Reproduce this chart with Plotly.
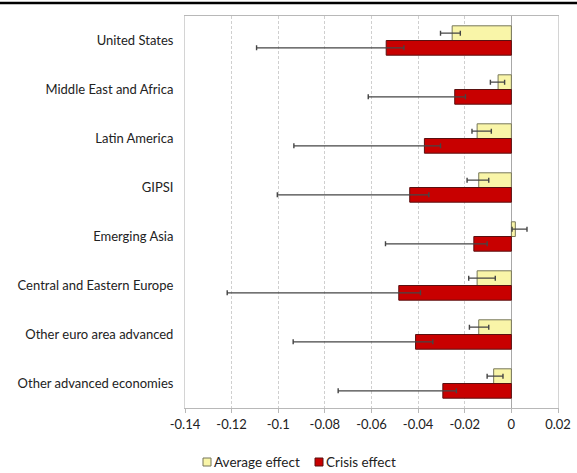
import plotly.graph_objects as go

# Regional groups, listed top to bottom
regions = [
    "United States",
    "Middle East and Africa",
    "Latin America",
    "GIPSI",
    "Emerging Asia",
    "Central and Eastern Europe",
    "Other euro area advanced",
    "Other advanced economies",
]

# Point estimates
average_effect = [-0.0254, -0.0057, -0.0147, -0.0140, 0.0017, -0.0147, -0.0140, -0.0076]
crisis_effect = [-0.0537, -0.0243, -0.0373, -0.0436, -0.0161, -0.0483, -0.0411, -0.0294]

# Interval bounds drawn as whiskers
average_low = [-0.0304, -0.0090, -0.0169, -0.0190, 0.0003, -0.0183, -0.0180, -0.0104]
average_high = [-0.0219, -0.0029, -0.0086, -0.0097, 0.0067, -0.0069, -0.0097, -0.0036]
crisis_low = [-0.1093, -0.0614, -0.0933, -0.1004, -0.0540, -0.1219, -0.0936, -0.0743]
crisis_high = [-0.0461, -0.0197, -0.0304, -0.0354, -0.0104, -0.0390, -0.0337, -0.0236]

tick_vals = [-0.14, -0.12, -0.10, -0.08, -0.06, -0.04, -0.02, 0.0, 0.02]
tick_text = ["-0.14", "-0.12", "-0.1", "-0.08", "-0.06", "-0.04", "-0.02", "0", "0.02"]

series_names = ["Average effect", "Crisis effect"]
series_fill = ["#F9F5A8", "#C80000"]
series_edge = ["#77775a", "#5a1010"]

FONT = "Lato"
W, H = 577, 473
L, R, T, B = 185, 19, 16, 65
PW, PH = W - L - R, H - T - B


def whiskers(values, low, high):
    plus = [h - v for v, h in zip(values, high)]
    minus = [v - lo for v, lo in zip(values, low)]
    return dict(type="data", symmetric=False, array=plus, arrayminus=minus,
                color="#454545", thickness=1.4, width=2.5)


fig = go.Figure()
for name, vals, lo, hi, fill, edge in [
    (series_names[0], average_effect, average_low, average_high, series_fill[0], series_edge[0]),
    (series_names[1], crisis_effect, crisis_low, crisis_high, series_fill[1], series_edge[1]),
]:
    fig.add_trace(go.Bar(
        name=name, y=regions, x=vals, orientation="h", showlegend=False,
        marker=dict(color=fill, line=dict(color=edge, width=1)),
        error_x=whiskers(vals, lo, hi),
    ))

# Heavy rule across the top of the figure
fig.add_shape(type="line", xref="paper", yref="paper",
              x0=-L / PW, x1=(W - L) / PW,
              y0=1 + (T - 3) / PH, y1=1 + (T - 3) / PH,
              line=dict(color="black", width=2.5))

# Legend under the axis: small swatches followed by labels (centred 462 px from top)
legend_y = (T + PH - 462) / PH
swatch_x = [207, 319]
for sx, name, fill, edge in zip(swatch_x, series_names, series_fill, series_edge):
    x0 = (sx - 4 - L) / PW
    x1 = (sx + 4 - L) / PW
    half = 4 / PH
    fig.add_shape(type="rect", xref="paper", yref="paper",
                  x0=x0, x1=x1, y0=legend_y - half, y1=legend_y + half,
                  fillcolor=fill, line=dict(color=edge, width=1))
    fig.add_annotation(xref="paper", yref="paper", x=(sx + 5 - L) / PW, y=legend_y,
                       text=name, showarrow=False, xanchor="left", yanchor="middle",
                       font=dict(family=FONT, size=13.5, color="#222222"))

fig.update_layout(
    width=W, height=H,
    margin=dict(l=L, r=R, t=T, b=B, autoexpand=False),
    paper_bgcolor="white", plot_bgcolor="white",
    barmode="group", bargap=0.4, bargroupgap=0.0,
    font=dict(family=FONT, size=13, color="#222222"),
    showlegend=False,
    xaxis=dict(
        range=[-0.14, 0.02], tickvals=tick_vals, ticktext=tick_text,
        showgrid=True, gridcolor="#cfcfcf", griddash="3px,2px", gridwidth=1,
        zeroline=True, zerolinecolor="#a8a8a8", zerolinewidth=1,
        showline=True, linecolor="#b8b8b8", linewidth=1, mirror=True,
        ticks="outside", ticklen=4, tickcolor="#b8b8b8",
        tickfont=dict(family=FONT, size=13, color="#222222"),
        automargin=False, fixedrange=True,
    ),
    yaxis=dict(
        autorange="reversed", showgrid=False,
        showline=True, linecolor="#d4d4d4", linewidth=1, mirror=True,
        ticks="", ticklabelstandoff=8,
        tickfont=dict(family=FONT, size=13, color="#222222"),
        automargin=False, fixedrange=True,
    ),
)

fig.write_html("out.html")
